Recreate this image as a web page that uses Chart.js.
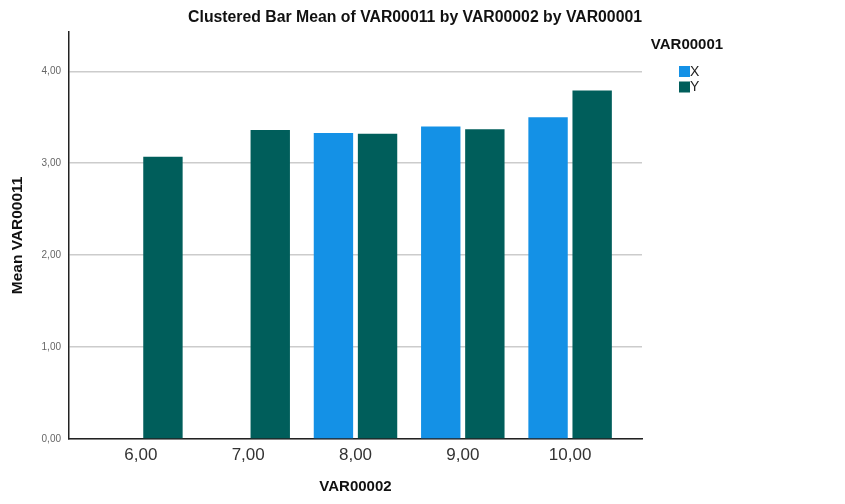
<!DOCTYPE html>
<html>
  <head>
    <title>Clustered Bar Mean of VAR00011</title>
    <style>
      body {
        margin: 0;
        padding: 0;
        background: #fff;
        font-family: "Liberation Sans", Arial, sans-serif;
      }

      #chart-container {
        width: 845px;
        height: 504px;
      }
    </style>
  </head>
  <body>
    <div id="chart-container">
      <canvas id="mean-chart"></canvas>
    </div>

    <script src="https://cdn.jsdelivr.net/npm/chart.js"></script>
    <script>
      // VAR00002 groups and the mean of VAR00011 for each VAR00001 value
      const categories = [6, 7, 8, 9, 10];
      const xMeans = [null, null, 3.33, 3.4, 3.5];
      const yMeans = [3.07, 3.36, 3.32, 3.37, 3.79];
      const yTicks = [0, 1, 2, 3, 4];
      const seriesNames = ["X", "Y"];
      const seriesColors = ["#1491e6", "#005e5b"];

      const comma = (v) => v.toFixed(2).replace(".", ",");

      // small legend drawn to the right of the plot, SPSS style
      const sideLegend = {
        id: "sideLegend",
        afterDraw(chart) {
          const ctx = chart.ctx;
          const left = chart.chartArea.right;
          ctx.save();
          ctx.fillStyle = "#111";
          ctx.font = "bold 15px 'Liberation Sans', Arial, sans-serif";
          ctx.textAlign = "center";
          ctx.textBaseline = "middle";
          ctx.fillText("VAR00001", left + 45, 45);
          ctx.font = "14px 'Liberation Sans', Arial, sans-serif";
          ctx.textAlign = "left";
          chart.data.datasets.forEach((ds, i) => {
            const y = 66 + i * 15.5;
            ctx.fillStyle = ds.backgroundColor;
            ctx.fillRect(left + 37, y, 11, 11);
            ctx.fillStyle = "#222";
            ctx.fillText(ds.label, left + 48, y + 6);
          });
          ctx.restore();
        },
      };

      const ctx = document.getElementById("mean-chart").getContext("2d");

      const chart = new Chart(ctx, {
        type: "bar",
        data: {
          datasets: [
            {
              label: seriesNames[0],
              data: categories.map((c, i) => ({ x: c, y: xMeans[i] })),
              backgroundColor: seriesColors[0],
            },
            {
              label: seriesNames[1],
              data: categories.map((c, i) => ({ x: c, y: yMeans[i] })),
              backgroundColor: seriesColors[1],
            },
          ],
        },
        options: {
          responsive: true,
          maintainAspectRatio: false,
          animation: false,
          categoryPercentage: 0.822,
          barPercentage: 0.893,
          layout: {
            padding: { left: 0, right: 203, top: 0, bottom: 0 },
          },
          plugins: {
            legend: { display: false },
            tooltip: { enabled: false },
            title: {
              display: true,
              text: "Clustered Bar Mean of VAR00011 by VAR00002 by VAR00001",
              align: "end",
              color: "#111",
              font: { family: "'Liberation Sans', Arial, sans-serif", size: 15.8, weight: "bold" },
              padding: { top: 8.4, bottom: 4.4 },
            },
          },
          scales: {
            x: {
              type: "linear",
              min: 5.33,
              max: 10.67,
              offset: false,
              afterBuildTicks: (s) => {
                s.ticks = categories.map((v) => ({ value: v }));
              },
              afterFit: (s) => {
                s.height = 65;
              },
              ticks: {
                padding: 6,
                color: "#333",
                font: { family: "'Liberation Sans', Arial, sans-serif", size: 17 },
                callback: (v) => comma(v),
                maxRotation: 0,
              },
              grid: { display: false, offset: false, drawTicks: false },
              border: { display: true, color: "#222", width: 1.5 },
              title: {
                display: true,
                text: "VAR00002",
                color: "#111",
                font: { family: "'Liberation Sans', Arial, sans-serif", size: 15, weight: "bold" },
                padding: { top: 0, bottom: 8 },
              },
            },
            y: {
              min: 0,
              max: 4.43,
              afterBuildTicks: (s) => {
                s.ticks = yTicks.map((v) => ({ value: v }));
              },
              afterFit: (s) => {
                s.width = 69;
              },
              ticks: {
                padding: 8,
                color: "#666",
                font: { family: "'Liberation Sans', Arial, sans-serif", size: 10 },
                callback: (v) => comma(v),
              },
              grid: { color: "#cccccc", lineWidth: 1.5, drawTicks: false },
              border: { display: true, color: "#222", width: 1.5 },
              title: {
                display: true,
                text: "Mean VAR00011",
                color: "#111",
                font: { family: "'Liberation Sans', Arial, sans-serif", size: 15.5, weight: "bold" },
                padding: { top: 8, bottom: 0 },
              },
            },
          },
        },
        plugins: [sideLegend],
      });
    </script>
  </body>
</html>
